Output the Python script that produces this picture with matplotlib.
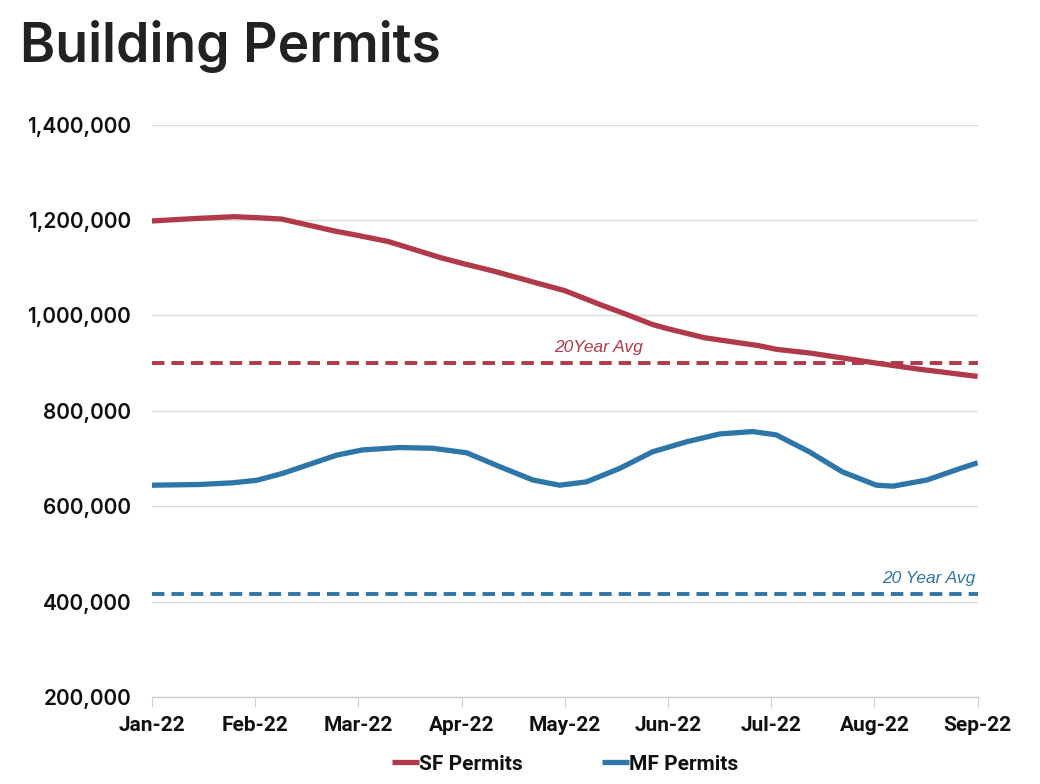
import matplotlib
matplotlib.use("Agg")
import matplotlib.pyplot as plt
from matplotlib.ticker import FuncFormatter, MultipleLocator

# month index (0 = Jan-22 ... 8 = Sep-22)
month_labels = ['Jan-22', 'Feb-22', 'Mar-22', 'Apr-22', 'May-22',
                'Jun-22', 'Jul-22', 'Aug-22', 'Sep-22']

sf_x = [0, 0.4, 0.8, 1.02, 1.26, 1.77, 1.99, 2.29, 2.8, 3.01, 3.31, 3.83,
        4.0, 4.34, 4.6, 4.85, 5.0, 5.36, 5.87, 6.05, 6.38, 6.9, 7.02, 7.41,
        8.0]
sf_permits = [1198000, 1203000, 1207000, 1205000, 1202000, 1177000, 1168000,
              1155000, 1121000, 1109000, 1093000, 1062000, 1052000, 1023000,
              1002000, 981000, 972000, 953000, 937000, 929000, 921000, 904000,
              900000, 888000, 872000]

mf_x = [0, 0.46, 0.78, 1.02, 1.27, 1.53, 1.79, 2.04, 2.4, 2.72, 3.05, 3.37,
        3.69, 3.95, 4.21, 4.53, 4.85, 5.18, 5.5, 5.82, 6.05, 6.37, 6.69,
        7.02, 7.18, 7.51, 7.83, 8.0]
mf_permits = [644000, 645500, 649000, 654500, 669000, 688000, 707000, 718000,
              723000, 721500, 712000, 683000, 655000, 644000, 651000, 679000,
              714000, 735000, 751500, 756500, 749500, 714000, 672000, 644000,
              642000, 655000, 679000, 691000]

sf_avg = 900000
mf_avg = 415000

red = '#b03a4a'
blue = '#2f76a8'

fig = plt.figure(figsize=(10.4, 7.84), dpi=100)
ax = fig.add_axes([0.146, 0.111, 0.794, 0.730])

ax.plot(sf_x, sf_permits, color=red, lw=3.8, solid_capstyle='butt',
        solid_joinstyle='round', label='SF Permits', zorder=3)
ax.plot(mf_x, mf_permits, color=blue, lw=3.8, solid_capstyle='butt',
        solid_joinstyle='round', label='MF Permits', zorder=3)

ax.axhline(sf_avg, color=red, lw=2.8, ls=(0, (3.2, 1.8)), zorder=2)
ax.axhline(mf_avg, color=blue, lw=2.8, ls=(0, (3.2, 1.8)), zorder=2)

ax.text(3.9, sf_avg + 18000, '20Year Avg', color=red, style='italic',
        fontsize=12.5, family='Liberation Sans', ha='left', va='bottom')
ax.text(7.98, mf_avg + 18000, '20 Year Avg', color=blue, style='italic',
        fontsize=12.5, family='Liberation Sans', ha='right', va='bottom')

ax.set_xlim(0, 8)
ax.set_ylim(200000, 1400000)
ax.yaxis.set_major_locator(MultipleLocator(200000))
ax.yaxis.set_major_formatter(FuncFormatter(lambda v, p: f'{int(v):,}'))
ax.set_xticks(range(len(month_labels)), labels=month_labels)

ax.grid(axis='y', color='#dcdcdc', lw=1)
ax.set_axisbelow(True)
for s in ['top', 'right', 'left']:
    ax.spines[s].set_visible(False)
ax.spines['bottom'].set_color('#cfcfcf')
ax.spines['bottom'].set_linewidth(1)

ax.tick_params(axis='y', length=0, pad=15, labelsize=15, labelcolor='#111111')
ax.tick_params(axis='x', length=7, color='#cfcfcf', pad=7, labelsize=15,
               labelcolor='#111111')
for lab in ax.get_yticklabels():
    lab.set_family('Inter')
    lab.set_fontweight('semibold')
for lab in ax.get_xticklabels():
    lab.set_family('Roboto')
    lab.set_fontweight('bold')

leg = ax.legend(loc='upper center', bbox_to_anchor=(0.5, -0.068), ncol=2,
                frameon=False, handlelength=1.3, handletextpad=0.0,
                columnspacing=3.8,
                prop={'family': 'Roboto', 'weight': 'bold', 'size': 15})
for t in leg.get_texts():
    t.set_color('#111111')

fig.text(0.019, 0.921, 'Building Permits', fontsize=38.5, family='Inter',
         fontweight='semibold', color='#222222', ha='left', va='baseline')

fig.savefig('out.png', dpi=100, facecolor='white')
